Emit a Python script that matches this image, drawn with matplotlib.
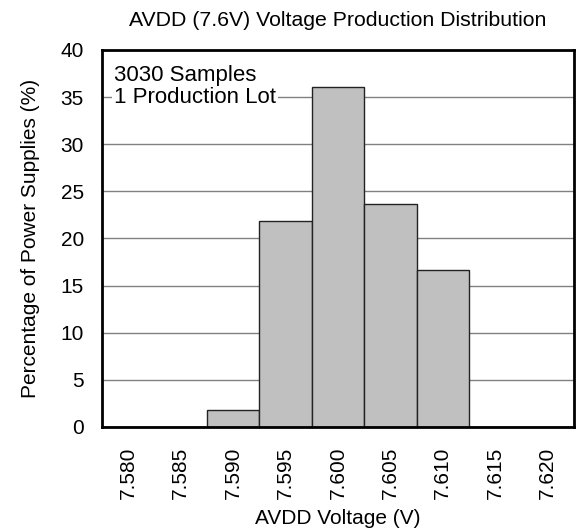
import matplotlib
matplotlib.use("Agg")
import matplotlib.pyplot as plt

categories = ["7.580", "7.585", "7.590", "7.595", "7.600", "7.605", "7.610", "7.615", "7.620"]
percentages = [0, 0, 1.8, 21.9, 36.1, 23.6, 16.7, 0, 0]
y_ticks = [0, 5, 10, 15, 20, 25, 30, 35, 40]

plt.rcParams['font.family'] = ['Liberation Sans', 'DejaVu Sans']

fig = plt.figure(figsize=(5.82, 5.31), dpi=100)
ax = fig.add_axes([0.1753, 0.196, 0.8107, 0.710])

x = list(range(len(categories)))
ax.bar(x, percentages, width=1.0, color="#c0c0c0", edgecolor="#222222", linewidth=1.0, zorder=3)

ax.set_xlim(-0.5, len(categories) - 0.5)
ax.set_ylim(0, 40)
ax.set_yticks(y_ticks)
ax.set_xticks(x)
ax.set_xticklabels(categories, rotation=90)
ax.tick_params(axis='both', length=0, labelsize=15)
ax.tick_params(axis='x', pad=14)
ax.tick_params(axis='y', pad=13)
ax.grid(axis='y', color="#808080", linewidth=1.0, zorder=0)
for s in ax.spines.values():
    s.set_linewidth(2.0)
    s.set_zorder(5)

ax.set_title("AVDD (7.6V) Voltage Production Distribution", fontsize=15.3, pad=17)
ax.set_xlabel("AVDD Voltage (V)", fontsize=15, labelpad=7)
ax.set_ylabel("Percentage of Power Supplies (%)", fontsize=15, labelpad=15)

ax.text(0.025, 0.96, "3030 Samples\n1 Production Lot", transform=ax.transAxes,
        ha='left', va='top', fontsize=16, linespacing=1.04,
        bbox=dict(facecolor='white', edgecolor='none', pad=1.5), zorder=4)

fig.savefig("out.png", dpi=100)
